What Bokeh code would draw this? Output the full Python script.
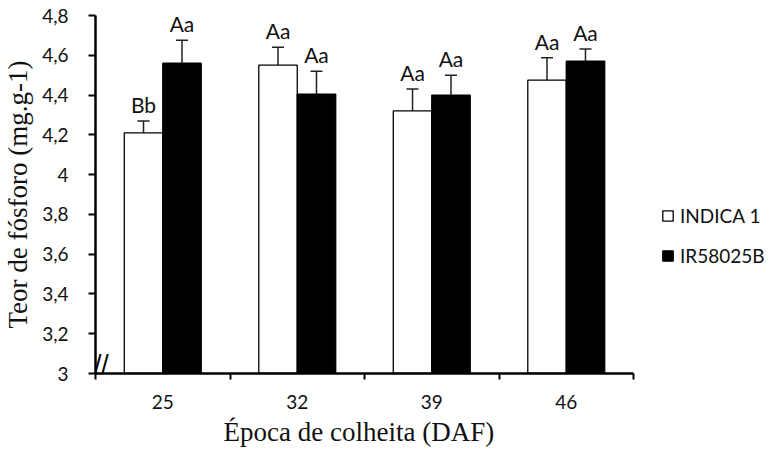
from bokeh.plotting import figure
from bokeh.models import (ColumnDataSource, FixedTicker, CustomJSTickFormatter,
                          Whisker, TeeHead, Legend, LegendItem, Range1d, Title)
from bokeh.core.properties import value
from bokeh.embed import file_html
from bokeh.resources import INLINE

# ---- data ----
categories = ["25", "32", "39", "46"]
indica_mean = [4.21, 4.55, 4.32, 4.475]
indica_err = [0.06, 0.09, 0.11, 0.113]
ir_mean = [4.56, 4.405, 4.40, 4.57]
ir_err = [0.115, 0.115, 0.10, 0.062]
indica_letters = ["Bb", "Aa", "Aa", "Aa"]
ir_letters = ["Aa", "Aa", "Aa", "Aa"]
series_names = ["INDICA 1", "IR58025B"]
y_ticks = [3.0, 3.2, 3.4, 3.6, 3.8, 4.0, 4.2, 4.4, 4.6, 4.8]

# ---- layout constants ----
CAT_PX = 134.5          # pixel width of one category slot
FRAME_W = 677           # frame extends to the right to hold the legend
FRAME_H = 358

n = len(categories)
idx = list(range(1, n + 1))
bar_w = 0.286
x_ind = [i - bar_w / 2 for i in idx]
x_ir = [i + bar_w / 2 for i in idx]

src_ind = ColumnDataSource(dict(
    x=x_ind, top=indica_mean,
    upper=[m + e for m, e in zip(indica_mean, indica_err)],
    lower=[m - e for m, e in zip(indica_mean, indica_err)],
    lab=indica_letters))
src_ir = ColumnDataSource(dict(
    x=x_ir, top=ir_mean,
    upper=[m + e for m, e in zip(ir_mean, ir_err)],
    lower=[m - e for m, e in zip(ir_mean, ir_err)],
    lab=ir_letters))

TXT = "#111111"

p = figure(frame_width=FRAME_W, frame_height=FRAME_H, output_backend="svg",
           toolbar_location=None,
           x_range=Range1d(0.5, 0.5 + FRAME_W / CAT_PX),
           y_range=Range1d(y_ticks[0], y_ticks[-1]),
           min_border_left=89, min_border_right=0, min_border_top=15,
           min_border_bottom=0)
p.outline_line_color = None
p.grid.visible = False
p.background_fill_color = "white"

r_ind = p.vbar(x="x", top="top", bottom=y_ticks[0], width=bar_w, source=src_ind,
               fill_color="white", line_color="black", line_width=1.3)
r_ir = p.vbar(x="x", top="top", bottom=y_ticks[0], width=bar_w, source=src_ir,
              fill_color="black", line_color="black", line_width=1.3)

for s in (src_ind, src_ir):
    w = Whisker(source=s, base="x", upper="upper", lower="lower",
                line_color="#222222", line_width=1.5,
                upper_head=TeeHead(size=12, line_color="#222222", line_width=1.5),
                lower_head=TeeHead(size=12, line_color="#222222", line_width=1.5))
    p.add_layout(w)
    p.text(x="x", y="upper", text="lab", source=s, text_align="center",
           text_baseline="bottom", y_offset=-4, text_font=value("Lato"),
           text_font_size="21px", text_color=TXT)

# axis break mark
p.text(x=[0.5], y=[y_ticks[0]], text=["//"], text_align="center",
       text_baseline="middle", x_offset=6, y_offset=-10,
       text_font=value("Liberation Sans"), text_font_size="26px",
       text_color="black")

# x axis
xa = p.xaxis[0]
xa.bounds = (0.5, n + 0.5)
xa.ticker = FixedTicker(ticks=idx, minor_ticks=[i + 0.5 for i in range(n + 1)])
xa.major_label_overrides = {i: c for i, c in zip(idx, categories)}
xa.major_tick_line_color = None
xa.major_tick_out = 6
xa.major_tick_in = 0
xa.minor_tick_line_color = "black"
xa.minor_tick_line_width = 2
xa.minor_tick_out = 6
xa.minor_tick_in = 0
xa.axis_line_width = 2.5
xa.axis_line_color = "black"
xa.major_label_text_font = "Lato"
xa.major_label_text_font_size = "19px"
xa.major_label_text_color = TXT
xa.major_label_standoff = 15

xtitle = Title(text="Época de colheita (DAF)", align="left", offset=128,
               standoff=6, text_font="Liberation Serif", text_font_style="normal",
               text_font_size="27px", text_color=TXT)
p.add_layout(xtitle, "below")

# y axis
ya = p.yaxis[0]
ya.ticker = FixedTicker(ticks=y_ticks, minor_ticks=[])
ya.formatter = CustomJSTickFormatter(
    code="var s = (Math.round(tick*10)/10).toString(); return s.replace('.', ',');")
ya.major_tick_out = 7
ya.major_tick_in = 0
ya.major_tick_line_width = 2
ya.axis_line_width = 2.5
ya.axis_line_color = "black"
ya.major_label_text_font = "Lato"
ya.major_label_text_font_size = "19px"
ya.major_label_text_color = TXT
ya.major_label_standoff = 20
ya.axis_label = "Teor de fósforo (mg.g-1)"
ya.axis_label_text_font = "Liberation Serif"
ya.axis_label_text_font_style = "normal"
ya.axis_label_text_font_size = "27px"
ya.axis_label_text_color = TXT
ya.axis_label_standoff = 6

legend = Legend(items=[LegendItem(label=series_names[0], renderers=[r_ind]),
                       LegendItem(label=series_names[1], renderers=[r_ir])],
                location=(566, 106), orientation="vertical",
                glyph_width=13, glyph_height=13, label_standoff=6, spacing=17,
                padding=0, margin=0, border_line_color=None,
                background_fill_alpha=0,
                label_text_font="Lato", label_text_font_size="19px",
                label_text_color=TXT)
p.add_layout(legend, "center")

open("out.html", "w").write(file_html(p, INLINE))
